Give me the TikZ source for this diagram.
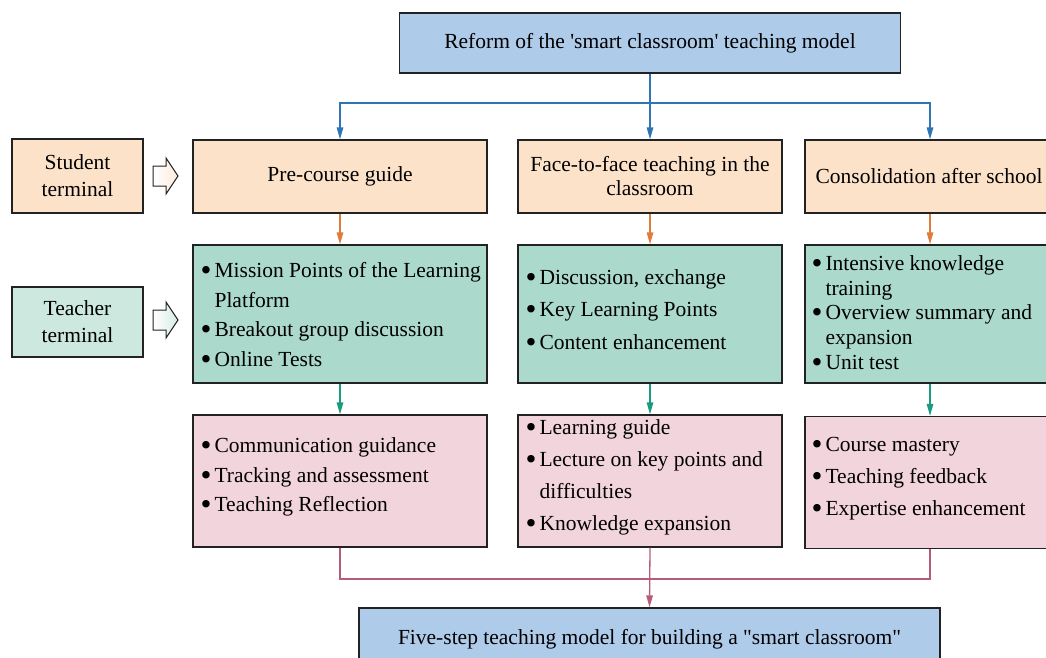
\documentclass[tikz,border=0pt]{standalone}
\usepackage{fontspec}
\setmainfont{Liberation Serif}
\usetikzlibrary{arrows.meta}
\definecolor{cblue}{HTML}{AFCBEA}
\definecolor{cpeach}{HTML}{FDE2CA}
\definecolor{cgreen}{HTML}{ABD9CB}
\definecolor{cgreenl}{HTML}{CCE8DF}
\definecolor{cpink}{HTML}{F2D4DC}
\definecolor{lblue}{HTML}{2E75B6}
\definecolor{lorange}{HTML}{E07B39}
\definecolor{lteal}{HTML}{1A9A7E}
\definecolor{lrose}{HTML}{B55C7A}
\definecolor{edge}{HTML}{222222}
\newcommand{\bl}{\makebox[14pt][l]{\raisebox{-3pt}{\scalebox{1.45}{\textbullet}}}}
\newcommand{\ind}{\hspace*{14pt}}
\newcommand{\sq}{\textquotesingle}
\newcommand{\dq}{\textquotedbl}
\tikzset{
  box/.style={draw=edge, line width=1.3pt, rectangle, inner sep=0pt},
  txt/.style={font=\fontsize{21.5}{27}\selectfont, align=center, inner sep=0pt},
  ltxt/.style={anchor=west, align=left, inner sep=0pt},
  conn/.style={line width=1.3pt, -{Triangle[length=12pt,width=6.5pt]}},
  connn/.style={line width=1.3pt},
  hollow/.style={draw=edge, line width=1pt},
}
\begin{document}
\begin{tikzpicture}[x=1pt,y=-1pt]
\useasboundingbox (0,0) rectangle (1046,657);
\begin{scope}
\clip (0,0) rectangle (1046,657);
% top
\node[box, fill=cblue, minimum width=501pt, minimum height=60pt] (top) at (650,43) {};
\node[txt] (toptxt) at (top.center) {Reform of the \sq smart classroom\sq\ teaching model};
% row 1
\node[box, fill=cpeach, minimum width=294pt, minimum height=73pt] (P1) at (340,176.5) {};
\node[box, fill=cpeach, minimum width=264pt, minimum height=73pt] (P2) at (650,176.5) {};
\node[box, fill=cpeach, minimum width=250pt, minimum height=73pt] (P3) at (930,176.5) {};
\node[txt] (P1t) at (P1.center) {Pre-course guide};
\node[txt, font=\fontsize{21.5}{24}\selectfont] (P2t) at (P2.center) {Face-to-face teaching in the\\classroom};
\node[txt] (P3t) at ([xshift=-1pt]P3.center) {Consolidation after school};
% row 2
\node[box, fill=cgreen, minimum width=294pt, minimum height=138pt] (G1) at (340,314) {};
\node[box, fill=cgreen, minimum width=264pt, minimum height=138pt] (G2) at (650,314) {};
\node[box, fill=cgreen, minimum width=250pt, minimum height=138pt] (G3) at (930,314) {};
\node[ltxt, font=\fontsize{21.5}{29.5}\selectfont] (G1t) at ([xshift=8pt,yshift=-2pt]G1.west)
  {\bl Mission Points of the Learning\\\ind Platform\\\bl Breakout group discussion\\\bl Online Tests};
\node[ltxt, font=\fontsize{21.5}{32.5}\selectfont] (G2t) at ([xshift=8pt,yshift=3pt]G2.west)
  {\bl Discussion, exchange\\\bl Key Learning Points\\\bl Content enhancement};
\node[ltxt, font=\fontsize{21.5}{24.8}\selectfont] (G3t) at ([xshift=7pt]G3.west)
  {\bl Intensive knowledge\\\ind training\\\bl Overview summary and\\\ind expansion\\\bl Unit test};
% row 3
\node[box, fill=cpink, minimum width=294pt, minimum height=132pt] (K1) at (340,481) {};
\node[box, fill=cpink, minimum width=264pt, minimum height=132pt] (K2) at (650,481) {};
\node[box, fill=cpink, minimum width=250pt, minimum height=132pt] (K3) at (930,482.5) {};
\node[ltxt, font=\fontsize{21.5}{29.5}\selectfont] (K1t) at ([xshift=8pt,yshift=4pt]K1.west)
  {\bl Communication guidance\\\bl Tracking and assessment\\\bl Teaching Reflection};
\node[ltxt, font=\fontsize{21.5}{32}\selectfont] (K2t) at ([xshift=8pt,yshift=4pt]K2.west)
  {\bl Learning guide\\\bl Lecture on key points and\\\ind difficulties\\\bl Knowledge expansion};
\node[ltxt, font=\fontsize{21.5}{32}\selectfont] (K3t) at ([xshift=7pt,yshift=4pt]K3.west)
  {\bl Course mastery\\\bl Teaching feedback\\\bl Expertise enhancement};
% bottom
\node[box, fill=cblue, minimum width=581pt, minimum height=60pt] (bot) at (649.5,638) {};
\node[txt] (bottxt) at ([yshift=-1pt]bot.center) {Five-step teaching model for building a \dq smart classroom\dq};
% side
\node[box, fill=cpeach, minimum width=131pt, minimum height=74pt] (stu) at (77.5,176) {};
\node[txt] (stut) at (stu.center) {Student\\terminal};
\node[box, fill=cgreenl, minimum width=131pt, minimum height=70pt] (tea) at (77.5,322) {};
\node[txt] (teat) at (tea.center) {Teacher\\terminal};
% hollow arrows
\draw[hollow, left color=white, right color=cpeach!70]
  (153,166) -- (166,166) -- (166,158) -- (178,176) -- (166,194) -- (166,186) -- (153,186) -- cycle;
\draw[hollow, left color=white, right color=cgreenl!80]
  (153,310) -- (166,310) -- (166,302) -- (178,320) -- (166,338) -- (166,330) -- (153,330) -- cycle;
% connectors
\coordinate (jt) at (650,103);
\draw[conn, lblue] (top.south) -- (P2.north);
\draw[conn, lblue] (jt) -| (P1.north);
\draw[conn, lblue] (jt) -| (P3.north);
\draw[conn, lorange] (P1.south) -- (G1.north);
\draw[conn, lorange] (P2.south) -- (G2.north);
\draw[conn, lorange] (P3.south) -- (G3.north);
\draw[conn, lteal] (G1.south) -- (K1.north);
\draw[conn, lteal] (G2.south) -- (K2.north);
\draw[conn, lteal] (G3.south) -- (K3.north);
\coordinate (jb) at (650,579);
\draw[connn, lrose] (K1.south) |- (jb) -| (K3.south);
\draw[conn, lrose] (K2.south) -- (bot.north);
\end{scope}
\end{tikzpicture}
\end{document}
